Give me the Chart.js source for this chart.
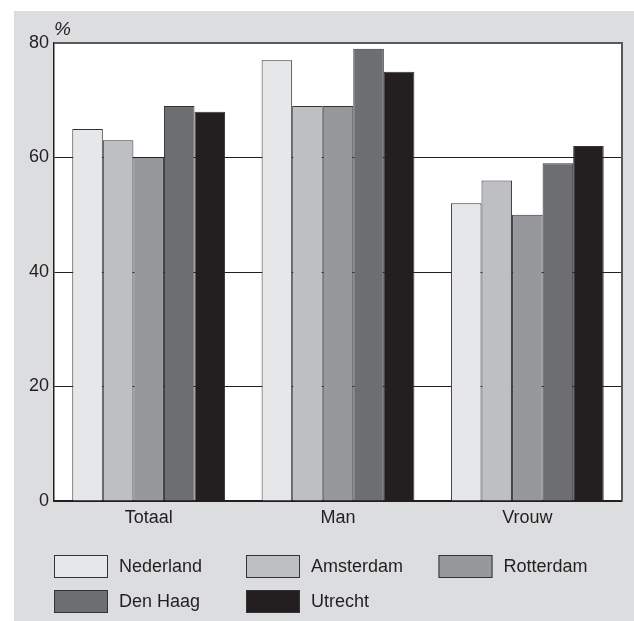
<!DOCTYPE html>
<html>
<head>
<meta charset="utf-8">
<script src="https://cdn.jsdelivr.net/npm/chart.js@4/dist/chart.umd.min.js"></script>
<style>
  body { margin: 0; background: #ffffff; }
  #panel { position: absolute; left: 14px; top: 11px; width: 620px; height: 610px; background: #dcdddf; }
  canvas { display: block; }
</style>
</head>
<body>
<div id="panel"><canvas id="chart" width="620" height="610"></canvas></div>
<script>
// data
const categories = ["Totaal", "Man", "Vrouw"];
const seriesNames = ["Nederland", "Amsterdam", "Rotterdam", "Den Haag", "Utrecht"];
const nederland = [65, 77, 52];
const amsterdam = [63, 69, 56];
const rotterdam = [60, 69, 50];
const denHaag = [69, 79, 59];
const utrecht = [68, 75, 62];
const yTicks = [0, 20, 40, 60, 80];

const fills = ["#e6e7e9", "#bebfc2", "#97989b", "#6d6e71", "#231f20"];
const ink = "#231f20";
const FONT = "Liberation Sans, Arial, sans-serif";

const values = [nederland, amsterdam, rotterdam, denHaag, utrecht];
const datasets = seriesNames.map((name, i) => ({
  label: name,
  data: values[i],
  backgroundColor: fills[i],
  borderColor: "#333333",
  borderWidth: 1,
  borderSkipped: "bottom",
  categoryPercentage: 0.807,
  barPercentage: 1.0
}));

// white plot background + grey frame on top/right, "%" unit and the legend grid
const frame = {
  id: "frame",
  beforeDraw(chart) {
    const a = chart.chartArea, c = chart.ctx;
    c.save();
    c.fillStyle = "#ffffff";
    c.fillRect(a.left, a.top, a.right - a.left, a.bottom - a.top);
    c.restore();
  },
  afterDraw(chart) {
    const a = chart.chartArea, c = chart.ctx;
    c.save();
    c.strokeStyle = "#58595b";
    c.lineWidth = 2;
    c.beginPath();
    c.moveTo(a.left, a.top);
    c.lineTo(a.right, a.top);
    c.lineTo(a.right, a.bottom);
    c.stroke();
    // unit
    c.fillStyle = ink;
    c.font = "italic 19px " + FONT;
    c.textAlign = "left";
    c.textBaseline = "middle";
    c.fillText("%", a.left, a.top - 13);
    // legend, 3 fixed columns
    const colX = [40, 232, 424.5];
    const rowY = [544, 579];
    chart.data.datasets.forEach((ds, i) => {
      const x = colX[i % 3], y = rowY[Math.floor(i / 3)];
      c.fillStyle = ds.backgroundColor;
      c.fillRect(x, y, 54, 23);
      c.strokeStyle = "#333333";
      c.lineWidth = 1;
      c.strokeRect(x + 0.5, y + 0.5, 53, 22);
      c.fillStyle = ink;
      c.font = "18px " + FONT;
      c.fillText(ds.label, x + 65, y + 12);
    });
    c.restore();
  }
};

new Chart(document.getElementById("chart"), {
  type: "bar",
  data: { labels: categories, datasets: datasets },
  options: {
    responsive: false,
    animation: false,
    layout: { padding: { left: 0, top: 32, right: 12, bottom: 0 } },
    plugins: { legend: { display: false }, tooltip: { enabled: false } },
    scales: {
      x: {
        grid: { display: false, drawTicks: false },
        border: { display: true, color: ink, width: 1.5 },
        ticks: { color: ink, font: { family: FONT, size: 18 }, padding: 6 },
        afterFit(s) { s.height = 120; }
      },
      y: {
        min: 0,
        max: 80,
        afterBuildTicks(s) { s.ticks = yTicks.map(v => ({ value: v })); },
        grid: {
          drawTicks: false,
          color: ctx => (ctx.tick && ctx.tick.value === 80 ? "rgba(0,0,0,0)" : ink),
          lineWidth: 1
        },
        border: { display: true, color: ink, width: 1.5 },
        ticks: { color: ink, font: { family: FONT, size: 18 }, padding: 5 },
        afterFit(s) { s.width = 40; }
      }
    }
  },
  plugins: [frame]
});
</script>
</body>
</html>
